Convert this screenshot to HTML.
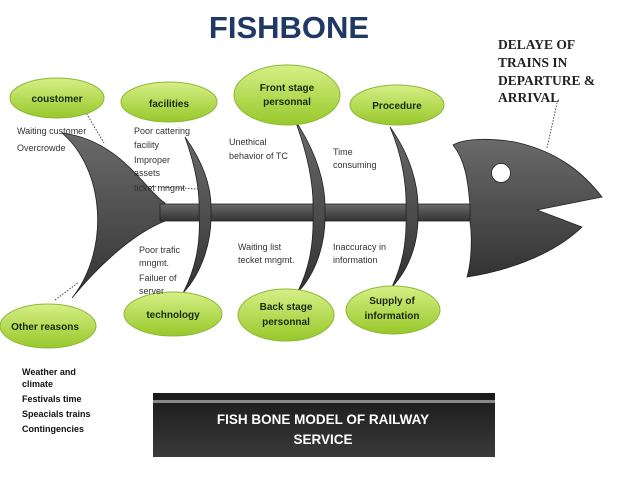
<!DOCTYPE html>
<html><head><meta charset="utf-8"><style>
html,body{margin:0;padding:0;background:#fff;}
svg{display:block;}
.t{font-family:"Liberation Sans",sans-serif;font-size:9px;fill:#333;}
.b{font-family:"Liberation Sans",sans-serif;font-size:10px;font-weight:bold;fill:#1a2a10;}
</style></head><body>
<svg width="638" height="479" viewBox="0 0 638 479">
<defs>
<linearGradient id="g" x1="0" y1="0" x2="0" y2="1"><stop offset="0" stop-color="#d6ef86"/><stop offset="1" stop-color="#98c82a"/></linearGradient>
<linearGradient id="d" x1="0" y1="0" x2="0" y2="1"><stop offset="0" stop-color="#6a6a6a"/><stop offset="1" stop-color="#333"/></linearGradient>
<linearGradient id="bx" x1="0" y1="0" x2="0" y2="1"><stop offset="0" stop-color="#1a1a1a"/><stop offset="1" stop-color="#3a3a3a"/></linearGradient>
</defs>
<text x="289" y="38" text-anchor="middle" font-family="Liberation Sans,sans-serif" font-weight="bold" font-size="31" fill="#1f3864">FISHBONE</text>
<g font-family="Liberation Serif,serif" font-weight="bold" font-size="13.5" fill="#222">
<text x="498" y="49">DELAYE OF</text><text x="498" y="67">TRAINS IN</text><text x="498" y="85">DEPARTURE &amp;</text><text x="498" y="102">ARRIVAL</text></g>
<path d="M62,133 C120,140 145,190 165,203 L165,221 C130,235 95,270 72,298 C110,250 105,170 62,133 Z" fill="url(#d)" stroke="#222" stroke-width="0.8"/>
<rect x="160" y="204" width="312" height="17" fill="url(#d)" stroke="#222" stroke-width="0.8"/>
<path d="M185,137 C205,165 212,190 211,212 C212,245 200,275 183,293 C195,270 201,245 199,212 C200,190 195,165 185,137Z" fill="url(#d)" stroke="#222" stroke-width="0.8"/>
<path d="M295,120 C318,155 326,185 325,212 C326,245 315,275 297,293 C309,270 314,245 313,212 C314,185 308,155 295,120Z" fill="url(#d)" stroke="#222" stroke-width="0.8"/>
<path d="M390,127 C410,155 419,185 418,212 C419,245 408,270 392,287 C402,265 407,245 406,212 C407,185 402,155 390,127Z" fill="url(#d)" stroke="#222" stroke-width="0.8"/>
<path d="M453,145 C465,138 490,138 515,142 C560,152 585,175 602,197 L537,210 L582,227 C550,258 500,272 467,277 C472,260 472,235 470,222 L470,206 C468,180 465,160 453,145Z" fill="url(#d)" stroke="#222" stroke-width="0.8"/>
<circle cx="501" cy="173" r="9.5" fill="#fff" stroke="#222" stroke-width="0.8"/>
<g stroke="#333" stroke-width="0.9" stroke-dasharray="1.5,1.5" fill="none">
<path d="M85,111 L104,143"/><path d="M55,300 L79,282"/><path d="M547,148 L557,103"/><path d="M140,186 L198,189"/></g>
<g fill="url(#g)" stroke="#8cb83a" stroke-width="1">
<ellipse cx="57" cy="98" rx="47" ry="20"/>
<ellipse cx="169" cy="102" rx="48" ry="20"/>
<ellipse cx="287" cy="95" rx="53" ry="30"/>
<ellipse cx="397" cy="105" rx="47" ry="20"/>
<ellipse cx="48" cy="326" rx="48" ry="22"/>
<ellipse cx="173" cy="314" rx="49" ry="22"/>
<ellipse cx="286" cy="315" rx="48" ry="26"/>
<ellipse cx="393" cy="310" rx="47" ry="24"/>
</g>
<g class="b" text-anchor="middle">
<text x="57" y="102">coustomer</text>
<text x="169" y="107">facilities</text>
<text x="287" y="91">Front stage</text><text x="287" y="105">personnal</text>
<text x="397" y="109">Procedure</text>
<text x="45" y="330">Other reasons</text>
<text x="173" y="318">technology</text>
<text x="286" y="310">Back stage</text><text x="286" y="325">personnal</text>
<text x="392" y="304">Supply of</text><text x="392" y="319">information</text>
</g>
<g class="t">
<text x="17" y="134">Waiting  customer</text><text x="17" y="151">Overcrowde</text>
<text x="134" y="134">Poor cattering</text><text x="134" y="148">facility</text>
<text x="134" y="163">Improper</text><text x="134" y="176">assets</text><text x="134" y="191">ticket mngmt</text>
<text x="229" y="145">Unethical</text><text x="229" y="159">behavior of TC</text>
<text x="333" y="155">Time</text><text x="333" y="168">consuming</text>
<text x="139" y="253">Poor trafic</text><text x="139" y="266">mngmt.</text>
<text x="139" y="281">Failuer of</text><text x="139" y="294">server</text>
<text x="238" y="250">Waiting list</text><text x="238" y="263">tecket mngmt.</text>
<text x="333" y="250">Inaccuracy in</text><text x="333" y="263">information</text>
</g>
<g font-family="Liberation Sans,sans-serif" font-weight="bold" font-size="9" fill="#111">
<text x="22" y="375">Weather and</text><text x="22" y="387">climate</text>
<text x="22" y="402">Festivals time</text><text x="22" y="417">Speacials trains</text><text x="22" y="432">Contingencies</text>
</g>
<rect x="153" y="393" width="342" height="64" fill="url(#bx)"/>
<rect x="153" y="400" width="342" height="3" fill="#888"/>
<g font-family="Liberation Sans,sans-serif" font-weight="bold" font-size="13.5" fill="#fff" text-anchor="middle">
<text x="323" y="424">FISH BONE MODEL OF RAILWAY</text><text x="323" y="444">SERVICE</text></g>
</svg>
</body></html>
